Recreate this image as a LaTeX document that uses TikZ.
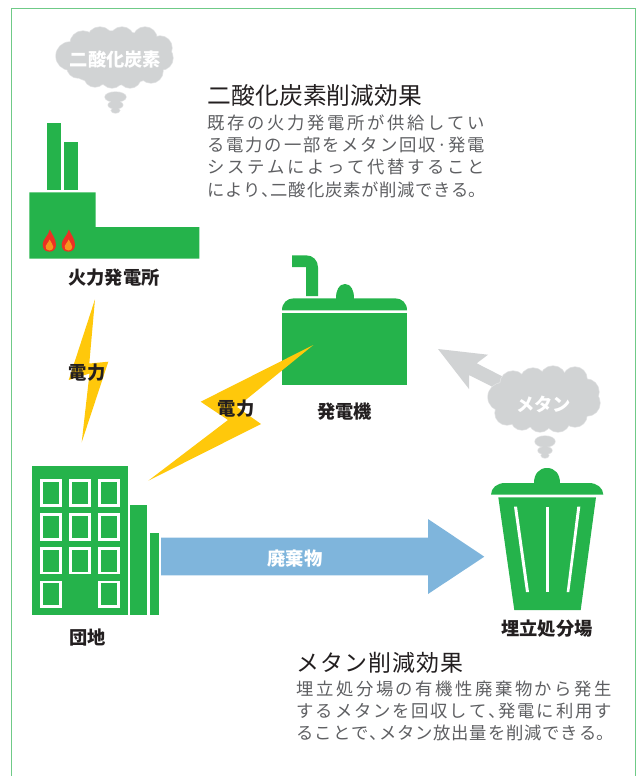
\documentclass[tikz,border=0pt]{standalone}
\usepackage{fontspec}
\setmainfont{Noto Sans CJK JP}
\usetikzlibrary{calc}
\definecolor{gr}{HTML}{25B34B}
\definecolor{frame}{HTML}{6FCA87}
\definecolor{bolt}{HTML}{FFC80B}
\definecolor{smoke}{HTML}{D1D3D4}
\definecolor{smokeedge}{HTML}{E4E5E6}
\definecolor{sky}{HTML}{7FB5DC}
\definecolor{ink}{HTML}{231F20}
\definecolor{body}{HTML}{5E5F62}
\definecolor{flameout}{HTML}{ED3024}
\definecolor{flamein}{HTML}{F7941D}
\newlength\pxu \pxu=0.75pt
\XeTeXlinebreaklocale "ja"
\XeTeXlinebreakskip=0pt plus 1fil
\newcommand{\narrowmark}[1]{\hfil\makebox[.5em][l]{#1}\hfil}
\newcommand{\jline}[2]{\parbox{#1\pxu}{\parindent=0pt\parfillskip=0pt\rightskip=0pt\leftskip=0pt\strut #2}}
\newcommand{\flamepic}[1]{%
  \fill[flameout] (#1,251.7) .. controls (#1-5,251.7) and (#1-6.8,248) .. (#1-6.6,244)
    .. controls (#1-6.4,239) and (#1-1,236) .. (#1+0.5,229.5)
    .. controls (#1+2.5,234) and (#1+6.8,239) .. (#1+6.7,245)
    .. controls (#1+6.6,249) and (#1+4,251.7) .. (#1,251.7) -- cycle;
  \fill[flamein] (#1,250.5) .. controls (#1-3,250.5) and (#1-4,248) .. (#1-3.6,246)
    .. controls (#1-3.2,244) and (#1-1,243) .. (#1+0.3,239.5)
    .. controls (#1+1.5,242.5) and (#1+4,244.5) .. (#1+4,247)
    .. controls (#1+4,249) and (#1+2.5,250.5) .. (#1,250.5) -- cycle;
}
\tikzset{
  x=0.75pt,y=-0.75pt,
  plate/.style={fill=gr},
  window/.style={draw=white,line width=2pt,fill=gr},
  stripe/.style={fill=white},
  zap/.style={fill=bolt},
  puff/.style={fill=smoke},
  puffedge/.style={draw=smokeedge,line width=1pt},
  tag/.style={font=\fontsize{13.7pt}{16pt}\selectfont\bfseries,text=ink,inner sep=0pt},
  whitetag/.style={tag,text=white},
  headline/.style={font=\fontsize{17.8pt}{21pt}\selectfont,text=ink,inner sep=0pt,anchor=west},
  headlinesmall/.style={headline,font=\fontsize{17.2pt}{21pt}\selectfont},
  bodyline/.style={font=\fontsize{13pt}{16pt}\selectfont,text=body,inner sep=0pt,anchor=west},
}
\newcommand{\cloudA}{
  (114,58) ellipse [x radius=52,y radius=27]
  (70,56) circle [radius=14] (83,44) circle [radius=13] (100,40) circle [radius=13]
  (122,39) circle [radius=12] (145,39) circle [radius=12] (160,48) circle [radius=12]
  (161,58) circle [radius=12] (151,71) circle [radius=12] (130,77) circle [radius=11]
  (112,77) circle [radius=11] (95,76) circle [radius=11] (78,67) circle [radius=11]
  (115.5,97) ellipse [x radius=10.5,y radius=5]
  (115.5,105) ellipse [x radius=7.3,y radius=3.8]
  (115.5,110.5) ellipse [x radius=4.2,y radius=2.5]
}
\newcommand{\cloudB}{
  (544,400) ellipse [x radius=50,y radius=28]
  (502,397) circle [radius=14] (507,413) circle [radius=12] (513,384) circle [radius=13]
  (533,381) circle [radius=13] (553,379) circle [radius=13] (575,379) circle [radius=12]
  (586,392) circle [radius=13] (587,403) circle [radius=13] (575,415) circle [radius=12]
  (558,420) circle [radius=12] (540,421) circle [radius=11] (522,419) circle [radius=11]
  (545,441.5) ellipse [x radius=10,y radius=5.5]
  (545,450.5) ellipse [x radius=7,y radius=3.7]
  (545,455.5) ellipse [x radius=3.8,y radius=2.5]
}
\begin{document}
\begin{tikzpicture}
\useasboundingbox (0,0) rectangle (641,776);
% frame
\draw[frame,line width=1pt] (11.7,776) -- (11.7,8.5) -- (635.7,8.5) -- (635.7,776);

% power plant
\fill[plate] (46.7,123) rectangle (61,189.5);
\fill[plate] (64,141.5) rectangle (78.3,189.5);
\fill[plate] (29.3,192.3) -- (95.7,192.3) -- (95.7,227) -- (199.3,227) -- (199.3,258.7) -- (29.3,258.7) -- cycle;
\flamepic{49.3}
\flamepic{68.3}
\node[tag] (plant) at (114,278) {火力発電所};

% CO2 cloud
\draw[puffedge] \cloudA;
\fill[puff] \cloudA;
\node[whitetag] (co2) at (115.5,60) {二酸化炭素};

% text block 1
\node[headline] (h1) at (207.5,99) {\jline{214.5}{二酸化炭素削減効果}};
\node[bodyline] (b11) at (207,125) {\jline{277.5}{既存の火力発電所が供給してい}};
\node[bodyline] (b12) at (207,147.5) {\jline{277.5}{る電力の一部をメタン回収\narrowmark{·}発電}};
\node[bodyline] (b13) at (207,169.5) {\jline{277.5}{システムによって代替すること}};
\node[bodyline] (b14) at (207,192) {\jline{279}{により\narrowmark{、}二酸化炭素が削減できる。}};

% generator
\fill[plate] (292,255.3) -- (306,255.3) .. controls (313,255.3) and (318,260.3) .. (318,267.3)
  -- (318,296) -- (306,296) -- (306,267) -- (292,267) -- cycle;
\fill[plate] (282,310.3) .. controls (282,303) and (287,298.3) .. (294,298.3) -- (336,298.3)
  .. controls (336,290) and (339,284) .. (345,284) .. controls (351,284) and (354,290) .. (354,298.3)
  -- (395,298.3) .. controls (402,298.3) and (407,303) .. (407,310.3) -- cycle;
\fill[plate] (282,313) rectangle (407,385);
\node[tag] (gen) at (344.5,412) {発電機};

% methane arrow and cloud
\fill[puff] (438,349) -- (488,354.7) -- (476.7,363.3) -- (503,376.7) -- (496.7,389) -- (469,375) -- (469,389) -- cycle;
\draw[puffedge] \cloudB;
\fill[puff] \cloudB;
\node[whitetag] (ch4) at (543.5,404) {メタン};

% bolts
\fill[zap] (95,299.3) -- (89.3,363.5) -- (108.3,361.7) -- (81.7,442.3) -- (89.5,373.5) -- (68.7,380) -- cycle;
\fill[zap] (313.3,345) -- (200.7,401.7) -- (228,420) -- (148.3,480.7) -- (261,424) -- (237,407) -- cycle;
\node[tag] (p1) at (87,373) {電力};
\node[tag] (p2) at (236,409) {電力};

% housing block
\fill[plate] (32,466) rectangle (128,614.7);
\fill[plate] (130.3,505) rectangle (147,614.7);
\fill[plate] (149.7,533) rectangle (158.7,614.7);
\foreach \wx/\wy in {41.3/480.7,70.6/480.7,99.3/480.7,
                     41.3/514.7,70.6/514.7,99.3/514.7,
                     41.3/548.4,70.6/548.4,99.3/548.4,
                     41.3/582,99.3/582}
  \draw[window] (\wx,\wy) rectangle ($(\wx,\wy)+(19,24.6)$);
\node[tag] (home) at (87.5,638) {団地};

% waste arrow
\fill[sky] (161,537.7) -- (428,537.7) -- (428,519) -- (484.3,556.7) -- (428,594) -- (428,575.3) -- (161,575.3) -- cycle;
\node[whitetag] (waste) at (295,559) {廃棄物};

% bin
\fill[plate] (491,494.7) .. controls (491,488) and (497,483) .. (505,483) -- (534,483)
  .. controls (534,474) and (539,468) .. (547,468) .. controls (555,468) and (560,474) .. (560,483)
  -- (589,483) .. controls (597,483) and (603.3,488) .. (603.3,494.7) -- cycle;
\fill[plate] (498.3,497.3) -- (596,497.3) -- (580.7,610) -- (514.3,610) -- cycle;
\fill[stripe] (514,506.7) -- (517,506.7) -- (529,592) -- (526,592) -- cycle;
\fill[stripe] (546,506.7) rectangle (549,592);
\fill[stripe] (577.3,506.7) -- (580.3,506.7) -- (569.3,592) -- (566.7,592) -- cycle;
\node[tag] (dump) at (547,629) {埋立処分場};

% text block 2
\node[headlinesmall] (h2) at (296.5,666) {\jline{166.5}{メタン削減効果}};
\node[bodyline] (b21) at (296.5,691.5) {\jline{315}{埋立処分場の有機性廃棄物から発生}};
\node[bodyline] (b22) at (296.5,713.5) {\jline{315}{するメタンを回収して\narrowmark{、}発電に利用す}};
\node[bodyline] (b23) at (296.5,735.5) {\jline{317}{ることで\narrowmark{、}メタン放出量を削減できる。}};
\end{tikzpicture}
\end{document}
